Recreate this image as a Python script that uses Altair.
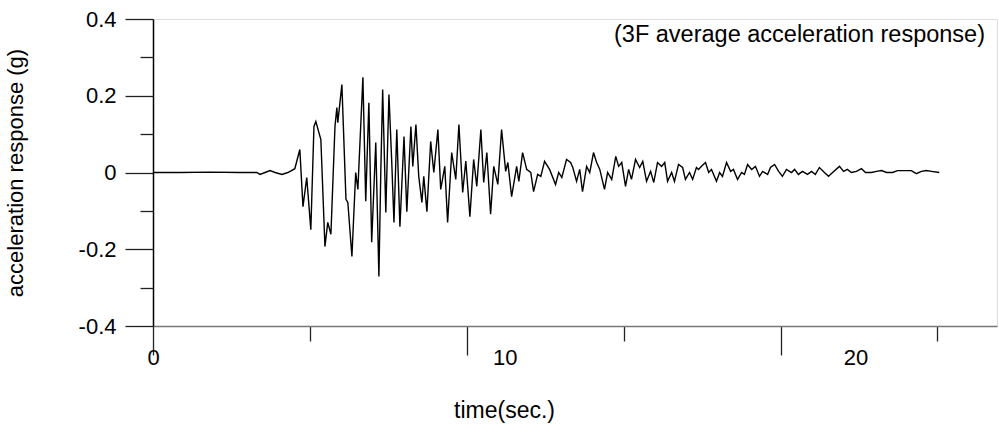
import altair as alt
import pandas as pd

# time (s) and acceleration (g)
time_s = [0.00, 0.86, 1.82, 2.77, 3.31, 3.41, 3.57, 3.73, 3.89, 4.11, 4.30, 4.52,
          4.68, 4.78, 4.90, 5.03, 5.13, 5.19, 5.35, 5.48, 5.57, 5.67, 5.80, 5.86,
          5.89, 6.02, 6.15, 6.21, 6.34, 6.46, 6.53, 6.69, 6.78, 6.88, 6.97, 7.10,
          7.20, 7.26, 7.32, 7.42, 7.52, 7.61, 7.68, 7.77, 7.87, 8.00, 8.09, 8.22,
          8.28, 8.38, 8.47, 8.57, 8.63, 8.73, 8.85, 8.95, 9.08, 9.17, 9.30, 9.39,
          9.52, 9.65, 9.75, 9.87, 9.97, 10.10, 10.22, 10.32, 10.45, 10.54, 10.64,
          10.76, 10.86, 10.99, 11.11, 11.24, 11.31, 11.43, 11.59, 11.66, 11.78,
          11.91, 12.04, 12.13, 12.26, 12.36, 12.48, 12.64, 12.83, 12.93, 13.03,
          13.18, 13.31, 13.38, 13.50, 13.60, 13.69, 13.82, 13.92, 14.04, 14.14,
          14.24, 14.39, 14.49, 14.62, 14.75, 14.84, 14.94, 15.06, 15.16, 15.25,
          15.38, 15.51, 15.61, 15.73, 15.86, 15.96, 16.08, 16.21, 16.31, 16.40,
          16.53, 16.62, 16.75, 16.88, 16.97, 17.10, 17.20, 17.32, 17.39, 17.48,
          17.61, 17.71, 17.80, 17.96, 18.06, 18.15, 18.28, 18.41, 18.50, 18.63,
          18.76, 18.85, 18.95, 19.08, 19.20, 19.33, 19.43, 19.59, 19.68, 19.81,
          19.94, 20.06, 20.19, 20.35, 20.45, 20.57, 20.70, 20.86, 20.99, 21.11,
          21.24, 21.40, 21.53, 21.66, 21.88, 22.01, 22.13, 22.26, 22.42, 22.58,
          22.71, 22.90, 23.06, 23.22, 23.38, 23.57, 23.73, 23.95, 24.17, 24.33,
          24.49, 24.65, 24.81, 25.06]
accel_g = [0.000, 0.000, 0.001, 0.000, 0.000, -0.005, 0.000, 0.005, 0.000, -0.005,
           0.000, 0.010, 0.060, -0.089, -0.013, -0.149, 0.120, 0.133, 0.086, -0.193,
           -0.130, -0.161, 0.120, 0.169, 0.130, 0.229, -0.070, -0.078, -0.219, 0.000,
           -0.044, 0.248, -0.075, 0.182, -0.182, 0.078, -0.271, 0.000, 0.216, -0.104,
           0.203, 0.026, -0.130, 0.112, -0.141, 0.094, -0.102, 0.120, 0.016, 0.125,
           -0.010, -0.078, -0.010, -0.102, 0.081, 0.000, 0.112, -0.044, 0.016, -0.130,
           0.052, -0.018, 0.125, -0.052, 0.030, -0.115, 0.034, -0.036, 0.112, -0.026,
           0.052, -0.109, 0.016, -0.031, 0.112, 0.003, 0.026, -0.063, 0.016, -0.023,
           0.052, 0.008, 0.000, -0.050, -0.005, -0.010, 0.029, 0.008, -0.031, 0.000,
           -0.013, 0.034, 0.026, 0.013, -0.023, 0.008, -0.050, 0.016, 0.000, 0.052,
           0.026, 0.008, -0.044, 0.000, -0.018, 0.042, 0.016, 0.026, -0.036, 0.008,
           -0.018, 0.034, 0.013, 0.029, -0.023, 0.003, -0.026, 0.026, 0.016, 0.026,
           -0.023, 0.000, -0.023, 0.021, 0.013, -0.018, 0.000, -0.018, 0.013, 0.008,
           0.016, 0.026, 0.000, 0.008, -0.023, 0.000, -0.010, 0.026, 0.003, 0.008,
           -0.018, 0.000, -0.005, 0.021, 0.008, 0.016, -0.010, 0.003, -0.005, 0.013,
           0.021, 0.003, -0.010, 0.008, 0.000, 0.008, -0.005, 0.003, -0.005, 0.003,
           -0.005, 0.013, 0.000, -0.010, 0.000, 0.016, 0.003, 0.008, 0.000, 0.003,
           0.010, 0.000, 0.000, 0.003, 0.005, 0.000, 0.000, 0.005, 0.005, 0.005,
           -0.003, 0.003, 0.005, 0.003, 0.000]

x_tick_values = [0, 5, 10, 15, 20, 25]
y_tick_values = [-0.4, -0.3, -0.2, -0.1, 0.0, 0.1, 0.2, 0.3, 0.4]
x_title = "time(sec.)"
y_title = "acceleration response (g)"
annotation = "(3F average acceleration response)"

FONT = "Liberation Sans"

df = pd.DataFrame({"t": time_s, "a": accel_g})

x_axis = alt.Axis(
    values=x_tick_values,
    labelExpr="datum.value % 10 === 0 ? datum.label : ''",
    tickSize={"condition": {"test": "datum.value % 10 === 0", "value": 29}, "value": 15},
    labelOffset={"condition": [{"test": "datum.value === 10", "value": 38},
                               {"test": "datum.value === 20", "value": 75}], "value": 0},
    labelFlush=False,
    labelPadding=-8,
    labelFontSize=22, labelFont=FONT, labelColor="black",
    tickColor="#222", tickWidth=1.3,
    domainColor="#777", domainWidth=1.5,
    grid=False,
    title=x_title, titleFontSize=23, titleFont=FONT, titleFontWeight="normal",
    titleColor="black", titleX=351, titleY=84, titleBaseline="middle",
)

y_axis = alt.Axis(
    values=y_tick_values,
    labelExpr=("round(datum.value*10) % 2 === 0 ? "
               "(datum.value === 0 ? '0' : (datum.value < 0 ? '-' + format(-datum.value, '.1f') "
               ": format(datum.value, '.1f'))) : ''"),
    tickSize={"condition": {"test": "round(datum.value*10) % 2 === 0", "value": 28}, "value": 13},
    labelFlush=False,
    labelPadding=9,
    labelFontSize=22, labelFont=FONT, labelColor="black",
    tickColor="#222", tickWidth=1.3,
    domainColor="black", domainWidth=1.5,
    grid=False,
    title=y_title, titleFontSize=22, titleFont=FONT, titleFontWeight="normal",
    titleColor="black", titleX=-126, titleY=153.5, titleAngle=270, titleBaseline="bottom",
)

line = alt.Chart(df).mark_line(color="black", strokeWidth=1.4).encode(
    x=alt.X("t:Q", scale=alt.Scale(domain=[0, 26.9], nice=False, zero=False), axis=x_axis),
    y=alt.Y("a:Q", scale=alt.Scale(domain=[-0.4, 0.4], nice=False), axis=y_axis),
)

note = alt.Chart(pd.DataFrame({"label": [annotation]})).mark_text(
    align="right", baseline="middle", fontSize=23.5, font=FONT, color="black"
).encode(x=alt.value(832), y=alt.value(16), text="label:N")

chart = alt.layer(line, note).properties(
    width=844, height=307,
    autosize=alt.AutoSizeParams(type="none"),
    padding={"left": 153, "top": 19, "right": 2, "bottom": 113},
).configure_view(stroke=None).configure(background="white")

chart.save("out.html", embed_options={"renderer": "svg", "actions": False})
